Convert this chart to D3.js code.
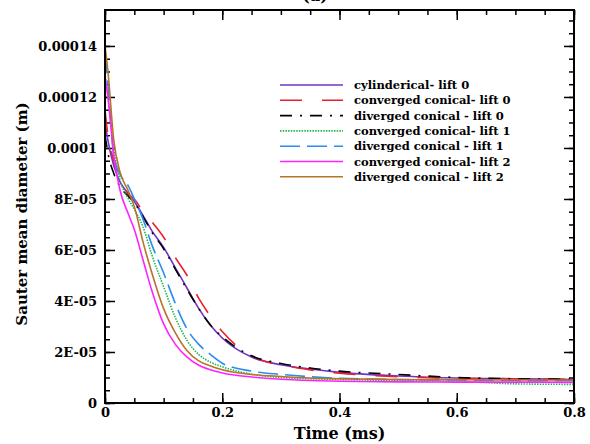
<!DOCTYPE html>
<html>
<head>
<meta charset="utf-8">
<script src="https://cdn.jsdelivr.net/npm/d3@7"></script>
<style>
  body { margin: 0; background: #fff; }
  svg { display: block; font-family: "DejaVu Serif", "Liberation Serif", serif; font-weight: bold; }
</style>
</head>
<body>
<svg width="590" height="444"></svg>
<script>
const svg = d3.select("svg");
const margin = { top: 10, right: 16, bottom: 41, left: 105 };
const width = 590 - margin.left - margin.right;
const height = 444 - margin.top - margin.bottom;

// time (ms) and diameters (in 1e-5 m)
const time = [0, 0.005, 0.015, 0.025, 0.04, 0.05, 0.065, 0.08, 0.1, 0.12, 0.14, 0.16, 0.18, 0.2, 0.25, 0.3, 0.35, 0.4, 0.5, 0.6, 0.7, 0.8];
const cylLift0  = [11.0, 10.3, 9.3, 8.7, 8.2, 7.9, 7.35, 6.75, 6.1, 5.3, 4.5, 3.7, 3.05, 2.55, 1.8, 1.5, 1.33, 1.2, 1.06, 0.98, 0.95, 0.92];
const convLift0 = [11.5, 10.5, 9.5, 8.8, 8.2, 8.0, 7.5, 7.1, 6.5, 5.7, 5.0, 4.1, 3.4, 2.8, 1.85, 1.5, 1.3, 1.17, 1.03, 0.97, 0.95, 0.93];
const divLift0  = [10.5, 9.8, 9.0, 8.5, 8.1, 7.85, 7.3, 6.7, 6.05, 5.25, 4.45, 3.7, 3.05, 2.6, 1.85, 1.55, 1.37, 1.25, 1.12, 1.0, 0.95, 0.93];
const convLift1 = [12.9, 12.0, 10.0, 8.8, 8.0, 7.6, 6.9, 5.8, 4.56, 3.35, 2.45, 1.9, 1.6, 1.42, 1.13, 1.0, 0.95, 0.92, 0.88, 0.85, 0.75, 0.73];
const divLift1  = [13.7, 12.5, 9.7, 9.0, 8.5, 8.0, 7.2, 6.2, 5.1, 3.9, 2.9, 2.3, 1.9, 1.56, 1.25, 1.12, 1.03, 0.97, 0.92, 0.9, 0.88, 0.87];
const convLift2 = [12.8, 12.0, 9.7, 8.4, 7.4, 6.8, 5.6, 4.4, 3.1, 2.3, 1.8, 1.48, 1.3, 1.18, 1.02, 0.93, 0.88, 0.85, 0.83, 0.82, 0.82, 0.81];
const divLift2  = [14.0, 13.0, 10.3, 9.1, 8.3, 7.7, 6.3, 5.1, 3.7, 2.75, 2.05, 1.65, 1.45, 1.3, 1.12, 1.04, 0.98, 0.95, 0.92, 0.91, 0.9, 0.9];

const names = ["cylinderical- lift 0", "converged conical- lift 0", "diverged conical - lift 0",
  "converged conical- lift 1", "diverged conical - lift 1", "converged conical- lift 2", "diverged conical - lift 2"];
const series = [cylLift0, convLift0, divLift0, convLift1, divLift1, convLift2, divLift2];
const colors = ["#7032c4", "#e8202a", "#000000", "#20b850", "#2a8cf0", "#ff22ff", "#b8722a"];
const dashes = [null, "22 20", "12 8 2 8", "1.5 1.2", "20 7", null, null];
const yTicks = [0, 2e-5, 4e-5, 6e-5, 8e-5, 1e-4, 1.2e-4, 1.4e-4];
const yTickLabels = ["0", "2E-05", "4E-05", "6E-05", "8E-05", "0.0001", "0.00012", "0.00014"];
const xTicks = [0, 0.2, 0.4, 0.6, 0.8];

const g = svg.append("g").attr("transform", `translate(${margin.left},${margin.top})`);

const x = d3.scaleLinear().domain([0, 0.8]).range([0, width]);
const y = d3.scaleLinear().domain([0, 1.541e-4]).range([height, 0]);

// minor / major ticks on all four sides, pointing inward
const xMinor = d3.range(0, 0.8001, 0.05);
const yMinor = d3.range(0, 1.54e-4, 0.5e-5);

g.append("g").attr("transform", `translate(0,${height})`)
  .call(d3.axisBottom(x).tickValues(xMinor).tickSize(-5).tickFormat(""));
g.append("g").attr("transform", `translate(0,${height})`)
  .call(d3.axisBottom(x).tickValues(xTicks).tickSize(-10).tickPadding(5)
    .tickFormat(d => d === 0 ? "0" : d3.format(".1f")(d)));
g.append("g").call(d3.axisTop(x).tickValues(xMinor).tickSize(-5).tickFormat(""));
g.append("g").call(d3.axisTop(x).tickValues(xTicks).tickSize(-10).tickFormat(""));

g.append("g").call(d3.axisLeft(y).tickValues(yMinor).tickSize(-5).tickFormat(""));
g.append("g").call(d3.axisLeft(y).tickValues(yTicks).tickSize(-10).tickPadding(8)
  .tickFormat((d, i) => yTickLabels[i]));
g.append("g").attr("transform", `translate(${width},0)`)
  .call(d3.axisRight(y).tickValues(yMinor).tickSize(-5).tickFormat(""));
g.append("g").attr("transform", `translate(${width},0)`)
  .call(d3.axisRight(y).tickValues(yTicks).tickSize(-10).tickFormat(""));

g.selectAll(".domain").remove();
g.selectAll(".tick line").attr("stroke", "#000").attr("stroke-width", 1.5);
g.selectAll(".tick text").attr("font-size", 13).attr("fill", "#000")
  .attr("font-family", "DejaVu Serif").attr("font-weight", "bold");

// curves
const line = d3.line()
  .x((d, i) => x(time[i]))
  .y(d => y(d * 1e-5))
  .curve(d3.curveMonotoneX);

g.append("defs").append("clipPath").attr("id", "clip")
  .append("rect").attr("width", width).attr("height", height);

g.append("g").attr("clip-path", "url(#clip)")
  .selectAll("path")
  .data(series)
  .join("path")
  .attr("d", line)
  .attr("fill", "none")
  .attr("stroke", (d, i) => colors[i])
  .attr("stroke-width", 1.6)
  .attr("stroke-dasharray", (d, i) => dashes[i]);

// frame
g.append("rect").attr("width", width).attr("height", height)
  .attr("fill", "none").attr("stroke", "#000").attr("stroke-width", 2);

// legend
const legend = g.append("g").attr("transform", "translate(175,75)");
const rows = legend.selectAll("g").data(names).join("g")
  .attr("transform", (d, i) => `translate(0,${i * 15.3})`);
rows.append("line")
  .attr("x1", 0).attr("x2", 63)
  .attr("stroke", (d, i) => colors[i])
  .attr("stroke-width", 1.6)
  .attr("stroke-dasharray", (d, i) => dashes[i]);
rows.append("text")
  .attr("x", 74).attr("dy", "0.35em")
  .attr("font-size", 11.5)
  .text(d => d);

// titles
svg.append("text")
  .attr("x", margin.left + x(0.4)).attr("y", 439)
  .attr("text-anchor", "middle").attr("font-size", 16)
  .text("Time (ms)");
svg.append("text")
  .attr("transform", `translate(27,214) rotate(-90)`)
  .attr("text-anchor", "middle").attr("font-size", 15)
  .text("Sauter mean diameter (m)");
svg.append("text")
  .attr("x", 315).attr("y", 1)
  .attr("text-anchor", "middle").attr("font-size", 16)
  .text("(a)");
</script>
</body>
</html>
